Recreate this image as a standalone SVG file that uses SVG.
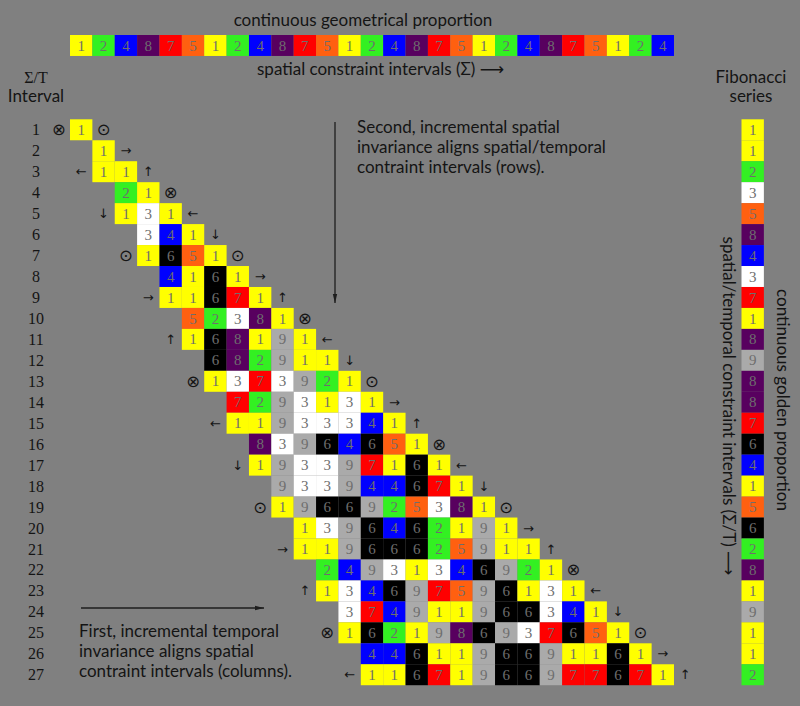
<svg xmlns="http://www.w3.org/2000/svg" width="800" height="706" viewBox="0 0 800 706">
<style>
.dg{font-family:"Liberation Serif",serif;font-size:15px;fill:#6e6e6e;text-anchor:middle}
.lbl{font-family:Lato,"DejaVu Sans",sans-serif;font-size:17px;fill:#141414}
.num{font-family:"Liberation Serif",serif;font-size:16px;fill:#141414;text-anchor:middle}
.sym{font-family:"DejaVu Sans",sans-serif;font-size:16.5px;fill:#141414;text-anchor:middle}
.arr{font-family:"DejaVu Sans",sans-serif;font-size:13px;fill:#141414;text-anchor:middle}
.conn{stroke:#1e1e1e;stroke-width:1.3;fill:none}
</style>
<defs>
<g id="d1"><rect width="22.37" height="20.96" fill="#ffff00"/><text class="dg" x="11.18" y="15.6">1</text></g>
<g id="d2"><rect width="22.37" height="20.96" fill="#33f022"/><text class="dg" x="11.18" y="15.6">2</text></g>
<g id="d3"><rect width="22.37" height="20.96" fill="#ffffff"/><text class="dg" x="11.18" y="15.6">3</text></g>
<g id="d4"><rect width="22.37" height="20.96" fill="#0000ff"/><text class="dg" x="11.18" y="15.6">4</text></g>
<g id="d5"><rect width="22.37" height="20.96" fill="#ff6010"/><text class="dg" x="11.18" y="15.6">5</text></g>
<g id="d6"><rect width="22.37" height="20.96" fill="#000000"/><text class="dg" x="11.18" y="15.6">6</text></g>
<g id="d7"><rect width="22.37" height="20.96" fill="#ff0000"/><text class="dg" x="11.18" y="15.6">7</text></g>
<g id="d8"><rect width="22.37" height="20.96" fill="#58005f"/><text class="dg" x="11.18" y="15.6">8</text></g>
<g id="d9"><rect width="22.37" height="20.96" fill="#aaaaaa"/><text class="dg" x="11.18" y="15.6">9</text></g>
<marker id="ah" markerWidth="10" markerHeight="6" refX="9" refY="3" orient="auto" markerUnits="userSpaceOnUse">
<path d="M0,0.8 L9,3 L0,5.2 Z" fill="#1e1e1e"/>
</marker>
</defs>
<rect width="800" height="706" fill="#808080"/>

<g id="header">
<text class="lbl" x="363" y="26" text-anchor="middle">continuous geometrical proportion</text>
<text class="lbl" x="257" y="75">spatial constraint intervals (Σ) ⟶</text>
<text class="num" x="36" y="83" font-size="16.5">Σ/T</text>
<text class="lbl" x="36" y="102" text-anchor="middle" font-size="16.5">Interval</text>
<text class="lbl" x="751" y="83" text-anchor="middle" font-size="16.5">Fibonacci</text>
<text class="lbl" x="751" y="102" text-anchor="middle" font-size="16.5">series</text>
</g>

<g id="geometric-bar" transform="translate(70,35)">
<use href="#d1" x="0"/><use href="#d2" x="22.37"/><use href="#d4" x="44.74"/><use href="#d8" x="67.11"/><use href="#d7" x="89.48"/><use href="#d5" x="111.85"/>
<use href="#d1" x="134.22"/><use href="#d2" x="156.59"/><use href="#d4" x="178.96"/><use href="#d8" x="201.33"/><use href="#d7" x="223.70"/><use href="#d5" x="246.07"/>
<use href="#d1" x="268.44"/><use href="#d2" x="290.81"/><use href="#d4" x="313.18"/><use href="#d8" x="335.55"/><use href="#d7" x="357.92"/><use href="#d5" x="380.29"/>
<use href="#d1" x="402.66"/><use href="#d2" x="425.03"/><use href="#d4" x="447.40"/><use href="#d8" x="469.77"/><use href="#d7" x="492.14"/><use href="#d5" x="514.51"/>
<use href="#d1" x="536.88"/><use href="#d2" x="559.25"/><use href="#d4" x="581.62"/>
</g>

<g id="row-labels">
<text class="num" x="36" y="135.3">1</text><text class="num" x="36" y="156.26">2</text><text class="num" x="36" y="177.22">3</text>
<text class="num" x="36" y="198.18">4</text><text class="num" x="36" y="219.14">5</text><text class="num" x="36" y="240.10">6</text>
<text class="num" x="36" y="261.06">7</text><text class="num" x="36" y="282.02">8</text><text class="num" x="36" y="302.98">9</text>
<text class="num" x="36" y="323.94">10</text><text class="num" x="36" y="344.90">11</text><text class="num" x="36" y="365.86">12</text>
<text class="num" x="36" y="386.82">13</text><text class="num" x="36" y="407.78">14</text><text class="num" x="36" y="428.74">15</text>
<text class="num" x="36" y="449.70">16</text><text class="num" x="36" y="470.66">17</text><text class="num" x="36" y="491.62">18</text>
<text class="num" x="36" y="512.58">19</text><text class="num" x="36" y="533.54">20</text><text class="num" x="36" y="554.50">21</text>
<text class="num" x="36" y="575.46">22</text><text class="num" x="36" y="596.42">23</text><text class="num" x="36" y="617.38">24</text>
<text class="num" x="36" y="638.34">25</text><text class="num" x="36" y="659.30">26</text><text class="num" x="36" y="680.26">27</text>
</g>

<g id="row-1" transform="translate(70,119.3)">
<text class="sym" x="-11.19" y="16">⊗</text>
<use href="#d1" x="0"/>
<text class="sym" x="33.56" y="16">⊙</text>
</g>
<g id="row-2" transform="translate(92.37,140.26)">
<use href="#d1" x="0"/>
<text class="arr" x="33.56" y="15">→</text>
</g>
<g id="row-3" transform="translate(92.37,161.22)">
<text class="arr" x="-11.19" y="15">←</text>
<use href="#d1" x="0"/><use href="#d1" x="22.37"/>
<text class="arr" x="55.93" y="15">↑</text>
</g>
<g id="row-4" transform="translate(114.74,182.18)">
<use href="#d2" x="0"/><use href="#d1" x="22.37"/>
<text class="sym" x="55.93" y="16">⊗</text>
</g>
<g id="row-5" transform="translate(114.74,203.14)">
<text class="arr" x="-11.19" y="15">↓</text>
<use href="#d1" x="0"/><use href="#d3" x="22.37"/><use href="#d1" x="44.74"/>
<text class="arr" x="78.30" y="15">←</text>
</g>
<g id="row-6" transform="translate(137.11,224.10)">
<use href="#d3" x="0"/><use href="#d4" x="22.37"/><use href="#d1" x="44.74"/>
<text class="arr" x="78.30" y="15">↓</text>
</g>
<g id="row-7" transform="translate(137.11,245.06)">
<text class="sym" x="-11.19" y="16">⊙</text>
<use href="#d1" x="0"/><use href="#d6" x="22.37"/><use href="#d5" x="44.74"/><use href="#d1" x="67.11"/>
<text class="sym" x="100.67" y="16">⊙</text>
</g>
<g id="row-8" transform="translate(159.48,266.02)">
<use href="#d4" x="0"/><use href="#d1" x="22.37"/><use href="#d6" x="44.74"/><use href="#d1" x="67.11"/>
<text class="arr" x="100.67" y="15">→</text>
</g>
<g id="row-9" transform="translate(159.48,286.98)">
<text class="arr" x="-11.19" y="15">→</text>
<use href="#d1" x="0"/><use href="#d1" x="22.37"/><use href="#d6" x="44.74"/><use href="#d7" x="67.11"/><use href="#d1" x="89.48"/>
<text class="arr" x="123.04" y="15">↑</text>
</g>
<g id="row-10" transform="translate(181.85,307.94)">
<use href="#d5" x="0"/><use href="#d2" x="22.37"/><use href="#d3" x="44.74"/><use href="#d8" x="67.11"/><use href="#d1" x="89.48"/>
<text class="sym" x="123.04" y="16">⊗</text>
</g>
<g id="row-11" transform="translate(181.85,328.90)">
<text class="arr" x="-11.19" y="15">↑</text>
<use href="#d1" x="0"/><use href="#d6" x="22.37"/><use href="#d8" x="44.74"/><use href="#d1" x="67.11"/><use href="#d9" x="89.48"/><use href="#d1" x="111.85"/>
<text class="arr" x="145.41" y="15">←</text>
</g>
<g id="row-12" transform="translate(204.22,349.86)">
<use href="#d6" x="0"/><use href="#d8" x="22.37"/><use href="#d2" x="44.74"/><use href="#d9" x="67.11"/><use href="#d1" x="89.48"/><use href="#d1" x="111.85"/>
<text class="arr" x="145.41" y="15">↓</text>
</g>
<g id="row-13" transform="translate(204.22,370.82)">
<text class="sym" x="-11.19" y="16">⊗</text>
<use href="#d1" x="0"/><use href="#d3" x="22.37"/><use href="#d7" x="44.74"/><use href="#d3" x="67.11"/><use href="#d9" x="89.48"/><use href="#d2" x="111.85"/><use href="#d1" x="134.22"/>
<text class="sym" x="167.78" y="16">⊙</text>
</g>
<g id="row-14" transform="translate(226.59,391.78)">
<use href="#d7" x="0"/><use href="#d2" x="22.37"/><use href="#d9" x="44.74"/><use href="#d3" x="67.11"/><use href="#d1" x="89.48"/><use href="#d3" x="111.85"/><use href="#d1" x="134.22"/>
<text class="arr" x="167.78" y="15">→</text>
</g>
<g id="row-15" transform="translate(226.59,412.74)">
<text class="arr" x="-11.19" y="15">←</text>
<use href="#d1" x="0"/><use href="#d1" x="22.37"/><use href="#d9" x="44.74"/><use href="#d3" x="67.11"/><use href="#d3" x="89.48"/><use href="#d3" x="111.85"/><use href="#d4" x="134.22"/><use href="#d1" x="156.59"/>
<text class="arr" x="190.15" y="15">↑</text>
</g>
<g id="row-16" transform="translate(248.96,433.70)">
<use href="#d8" x="0"/><use href="#d3" x="22.37"/><use href="#d9" x="44.74"/><use href="#d6" x="67.11"/><use href="#d4" x="89.48"/><use href="#d6" x="111.85"/><use href="#d5" x="134.22"/><use href="#d1" x="156.59"/>
<text class="sym" x="190.15" y="16">⊗</text>
</g>
<g id="row-17" transform="translate(248.96,454.66)">
<text class="arr" x="-11.19" y="15">↓</text>
<use href="#d1" x="0"/><use href="#d9" x="22.37"/><use href="#d3" x="44.74"/><use href="#d3" x="67.11"/><use href="#d9" x="89.48"/><use href="#d7" x="111.85"/><use href="#d1" x="134.22"/><use href="#d6" x="156.59"/><use href="#d1" x="178.96"/>
<text class="arr" x="212.52" y="15">←</text>
</g>
<g id="row-18" transform="translate(271.33,475.62)">
<use href="#d9" x="0"/><use href="#d3" x="22.37"/><use href="#d3" x="44.74"/><use href="#d9" x="67.11"/><use href="#d4" x="89.48"/><use href="#d4" x="111.85"/><use href="#d6" x="134.22"/><use href="#d7" x="156.59"/><use href="#d1" x="178.96"/>
<text class="arr" x="212.52" y="15">↓</text>
</g>
<g id="row-19" transform="translate(271.33,496.58)">
<text class="sym" x="-11.19" y="16">⊙</text>
<use href="#d1" x="0"/><use href="#d9" x="22.37"/><use href="#d6" x="44.74"/><use href="#d6" x="67.11"/><use href="#d9" x="89.48"/><use href="#d2" x="111.85"/><use href="#d5" x="134.22"/><use href="#d3" x="156.59"/><use href="#d8" x="178.96"/><use href="#d1" x="201.33"/>
<text class="sym" x="234.89" y="16">⊙</text>
</g>
<g id="row-20" transform="translate(293.70,517.54)">
<use href="#d1" x="0"/><use href="#d3" x="22.37"/><use href="#d9" x="44.74"/><use href="#d6" x="67.11"/><use href="#d4" x="89.48"/><use href="#d6" x="111.85"/><use href="#d2" x="134.22"/><use href="#d1" x="156.59"/><use href="#d9" x="178.96"/><use href="#d1" x="201.33"/>
<text class="arr" x="234.89" y="15">→</text>
</g>
<g id="row-21" transform="translate(293.70,538.50)">
<text class="arr" x="-11.19" y="15">→</text>
<use href="#d1" x="0"/><use href="#d1" x="22.37"/><use href="#d9" x="44.74"/><use href="#d6" x="67.11"/><use href="#d6" x="89.48"/><use href="#d6" x="111.85"/><use href="#d2" x="134.22"/><use href="#d5" x="156.59"/><use href="#d9" x="178.96"/><use href="#d1" x="201.33"/><use href="#d1" x="223.70"/>
<text class="arr" x="257.26" y="15">↑</text>
</g>
<g id="row-22" transform="translate(316.07,559.46)">
<use href="#d2" x="0"/><use href="#d4" x="22.37"/><use href="#d9" x="44.74"/><use href="#d3" x="67.11"/><use href="#d1" x="89.48"/><use href="#d3" x="111.85"/><use href="#d4" x="134.22"/><use href="#d6" x="156.59"/><use href="#d9" x="178.96"/><use href="#d2" x="201.33"/><use href="#d1" x="223.70"/>
<text class="sym" x="257.26" y="16">⊗</text>
</g>
<g id="row-23" transform="translate(316.07,580.42)">
<text class="arr" x="-11.19" y="15">↑</text>
<use href="#d1" x="0"/><use href="#d3" x="22.37"/><use href="#d4" x="44.74"/><use href="#d6" x="67.11"/><use href="#d9" x="89.48"/><use href="#d7" x="111.85"/><use href="#d5" x="134.22"/><use href="#d9" x="156.59"/><use href="#d6" x="178.96"/><use href="#d1" x="201.33"/><use href="#d3" x="223.70"/><use href="#d1" x="246.07"/>
<text class="arr" x="279.63" y="15">←</text>
</g>
<g id="row-24" transform="translate(338.44,601.38)">
<use href="#d3" x="0"/><use href="#d7" x="22.37"/><use href="#d4" x="44.74"/><use href="#d9" x="67.11"/><use href="#d1" x="89.48"/><use href="#d1" x="111.85"/><use href="#d9" x="134.22"/><use href="#d6" x="156.59"/><use href="#d6" x="178.96"/><use href="#d3" x="201.33"/><use href="#d4" x="223.70"/><use href="#d1" x="246.07"/>
<text class="arr" x="279.63" y="15">↓</text>
</g>
<g id="row-25" transform="translate(338.44,622.34)">
<text class="sym" x="-11.19" y="16">⊗</text>
<use href="#d1" x="0"/><use href="#d6" x="22.37"/><use href="#d2" x="44.74"/><use href="#d1" x="67.11"/><use href="#d9" x="89.48"/><use href="#d8" x="111.85"/><use href="#d6" x="134.22"/><use href="#d9" x="156.59"/><use href="#d3" x="178.96"/><use href="#d7" x="201.33"/><use href="#d6" x="223.70"/><use href="#d5" x="246.07"/><use href="#d1" x="268.44"/>
<text class="sym" x="302.00" y="16">⊙</text>
</g>
<g id="row-26" transform="translate(360.81,643.30)">
<use href="#d4" x="0"/><use href="#d4" x="22.37"/><use href="#d6" x="44.74"/><use href="#d1" x="67.11"/><use href="#d1" x="89.48"/><use href="#d9" x="111.85"/><use href="#d6" x="134.22"/><use href="#d6" x="156.59"/><use href="#d9" x="178.96"/><use href="#d1" x="201.33"/><use href="#d1" x="223.70"/><use href="#d6" x="246.07"/><use href="#d1" x="268.44"/>
<text class="arr" x="302.00" y="15">→</text>
</g>
<g id="row-27" transform="translate(360.81,664.26)">
<text class="arr" x="-11.19" y="15">←</text>
<use href="#d1" x="0"/><use href="#d1" x="22.37"/><use href="#d6" x="44.74"/><use href="#d7" x="67.11"/><use href="#d1" x="89.48"/><use href="#d9" x="111.85"/><use href="#d6" x="134.22"/><use href="#d6" x="156.59"/><use href="#d9" x="178.96"/><use href="#d7" x="201.33"/><use href="#d7" x="223.70"/><use href="#d6" x="246.07"/><use href="#d7" x="268.44"/><use href="#d1" x="290.81"/>
<text class="arr" x="324.37" y="15">↑</text>
</g>

<g id="fibonacci" transform="translate(741.5,119.3)">
<use href="#d1" y="0"/><use href="#d1" y="20.96"/><use href="#d2" y="41.92"/><use href="#d3" y="62.88"/><use href="#d5" y="83.84"/><use href="#d8" y="104.80"/>
<use href="#d4" y="125.76"/><use href="#d3" y="146.72"/><use href="#d7" y="167.68"/><use href="#d1" y="188.64"/><use href="#d8" y="209.60"/><use href="#d9" y="230.56"/>
<use href="#d8" y="251.52"/><use href="#d8" y="272.48"/><use href="#d7" y="293.44"/><use href="#d6" y="314.40"/><use href="#d4" y="335.36"/><use href="#d1" y="356.32"/>
<use href="#d5" y="377.28"/><use href="#d6" y="398.24"/><use href="#d2" y="419.20"/><use href="#d8" y="440.16"/><use href="#d1" y="461.12"/><use href="#d9" y="482.08"/>
<use href="#d1" y="503.04"/><use href="#d1" y="524.00"/><use href="#d2" y="544.96"/>
</g>

<g id="side-labels">
<text class="lbl" transform="translate(727,406) rotate(90)" x="0" y="4" text-anchor="middle">spatial/temporal constraint intervals (Σ/T) ⟶</text>
<text class="lbl" transform="translate(782,400) rotate(90)" x="0" y="5" text-anchor="middle">continuous golden proportion</text>
</g>

<g id="notes">
<text class="lbl" x="357" y="133">Second, incremental spatial</text>
<text class="lbl" x="357" y="153">invariance aligns spatial/temporal</text>
<text class="lbl" x="357" y="173">contraint intervals (rows).</text>
<text class="lbl" x="79" y="637">First, incremental temporal</text>
<text class="lbl" x="79" y="657">invariance aligns spatial</text>
<text class="lbl" x="79" y="677">contraint intervals (columns).</text>
</g>

<g id="connectors">
<line class="conn" x1="335" y1="122" x2="335" y2="303" marker-end="url(#ah)"/>
<line class="conn" x1="81" y1="608" x2="264" y2="608" marker-end="url(#ah)"/>
</g>
</svg>
